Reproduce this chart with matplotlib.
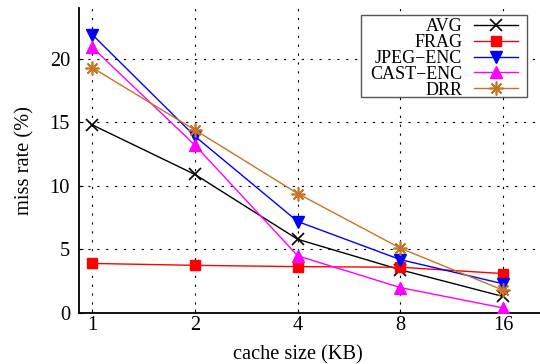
import numpy as np
import matplotlib
matplotlib.use("Agg")
import matplotlib.pyplot as plt
from matplotlib.patches import Rectangle

cache_kb = [1, 2, 4, 8, 16]
tick_labels = ["1", "2", "4", "8", "16"]

avg = [14.8, 10.9, 5.8, 3.4, 1.3]
frag = [3.9, 3.75, 3.65, 3.6, 3.1]
jpeg_enc = [21.9, 13.9, 7.2, 4.2, 2.3]
cast_enc = [20.9, 13.2, 4.5, 2.0, 0.4]
drr = [19.3, 14.4, 9.4, 5.1, 1.8]

series = [
    ("AVG", avg, "black", "x", 9),
    ("FRAG", frag, "#ff0000", "s", 6.5),
    ("JPEG\u2212ENC", jpeg_enc, "#0000ff", "v", 8.5),
    ("CAST\u2212ENC", cast_enc, "#ff00ff", "^", 8.5),
    ("DRR", drr, "#c87322", (8, 2, 0), 10),
]

plt.rcParams["font.family"] = ["Liberation Serif", "DejaVu Serif"]
plt.rcParams["font.size"] = 14.7

W, H = 540, 364
fig = plt.figure(figsize=(W / 100, H / 100), dpi=100)
ax = fig.add_axes([79 / W, 1 - 313 / H, (W - 79) / W, (313 - 8) / H])

x = np.log2(cache_kb)
for name, vals, color, marker, ms in series:
    ax.plot(x, vals, color=color, marker=marker, markersize=ms, lw=1.0,
            mew=1.2 if marker == "x" or isinstance(marker, tuple) else 1.0,
            label=name, zorder=3)

ax.set_xlim(-0.13, 4.36)
ax.set_ylim(0, 24)
ax.set_xticks(x)
ax.set_xticklabels(tick_labels)
ax.set_yticks([0, 5, 10, 15, 20])

ax.grid(True, color="black", linestyle=(0, (2, 6)), linewidth=0.8)
ax.set_axisbelow(True)
for side in ("top", "right"):
    ax.spines[side].set_visible(False)
for side in ("left", "bottom"):
    ax.spines[side].set_linewidth(1.3)
ax.tick_params(direction="in", length=3, width=0.8, labelsize=14.7)
ax.tick_params(axis="x", pad=2)
ax.tick_params(axis="y", pad=6.5)

ax.set_xlabel("cache size (KB)", fontsize=14.7)
ax.set_ylabel("miss rate (%)", fontsize=14.7)
ax.xaxis.set_label_coords((298 - 79) / (W - 79), -(345 - 313) / (313 - 8))
ax.yaxis.set_label_coords(-(79 - 34) / (W - 79), 0.5)

# legend frame, drawn as its own box behind the entries
ax.add_patch(Rectangle((361 / W, 1 - 97 / H), (527 - 361) / W, (97 - 15) / H,
                       transform=fig.transFigure, facecolor="white",
                       edgecolor="#555555", linewidth=1.0, zorder=8,
                       clip_on=False))
# legend entries (text to the left of the sample)
leg = ax.legend(loc="upper right", bbox_to_anchor=(518 / W, 1 - 18 / H),
                bbox_transform=fig.transFigure, markerfirst=False,
                frameon=False, fontsize=13, handlelength=2.44,
                handletextpad=0.65, labelspacing=-0.06, borderpad=0,
                borderaxespad=0)
leg.set_zorder(9)

fig.savefig("out.png", dpi=100)
